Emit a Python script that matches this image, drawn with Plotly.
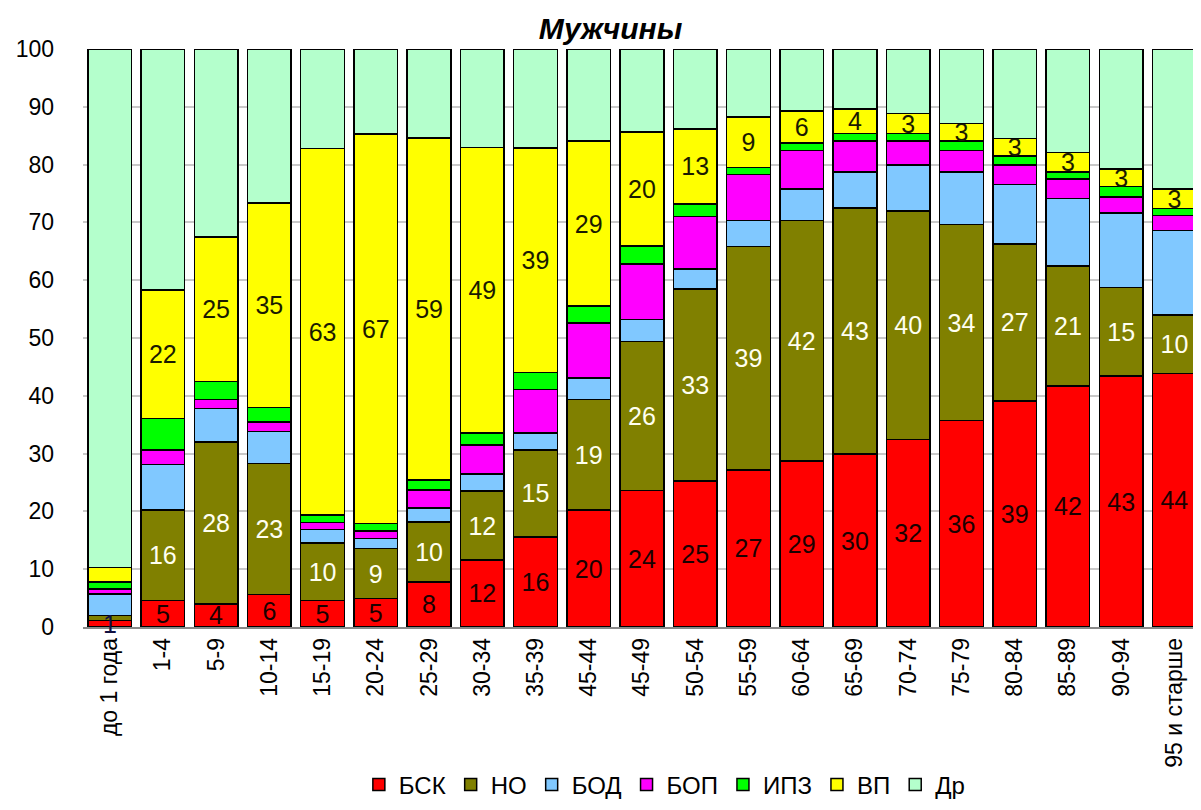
import plotly.graph_objects as go

categories = ["до 1 года", "1-4", "5-9", "10-14", "15-19", "20-24", "25-29", "30-34",
              "35-39", "45-44", "45-49", "50-54", "55-59", "60-64", "65-69", "70-74",
              "75-79", "80-84", "85-89", "90-94", "95 и старше"]

bsk = [1.1, 4.6, 4.0, 5.6, 4.6, 4.9, 7.8, 11.6, 15.6, 20.2, 23.6, 25.3, 27.2, 28.7, 29.9, 32.4, 35.7, 39.1, 41.7, 43.4, 43.9]
no = [0.9, 15.6, 28.0, 22.7, 9.9, 8.7, 10.4, 11.9, 15.0, 19.2, 25.8, 33.2, 38.6, 41.6, 42.6, 39.6, 33.9, 27.2, 20.8, 15.3, 10.1]
bod = [3.7, 7.9, 5.8, 5.5, 2.4, 1.7, 2.4, 3.0, 3.0, 3.7, 3.8, 3.4, 4.5, 5.5, 6.2, 7.9, 9.1, 10.3, 11.6, 12.9, 14.6]
bop = [0.9, 2.5, 1.6, 1.7, 1.2, 1.3, 3.1, 5.0, 7.5, 9.5, 9.6, 9.1, 8.0, 6.6, 5.4, 4.2, 3.7, 3.3, 3.4, 2.8, 2.6]
ipz = [1.2, 5.5, 3.1, 2.5, 1.3, 1.3, 1.7, 2.1, 2.9, 2.9, 3.1, 2.2, 1.2, 1.3, 1.3, 1.3, 1.7, 1.6, 1.2, 1.8, 1.2]
vp = [2.5, 22.2, 25.0, 35.4, 63.4, 67.4, 59.2, 49.4, 38.9, 28.6, 19.7, 13.0, 8.7, 5.6, 4.2, 3.4, 3.0, 3.0, 3.4, 3.0, 3.4]
dr = [89.7, 41.7, 32.5, 26.6, 17.2, 14.7, 15.4, 17.0, 17.1, 15.9, 14.4, 13.8, 11.8, 10.7, 10.4, 11.2, 12.9, 15.5, 17.9, 20.8, 24.2]

series_names = ["БСК", "НО", "БОД", "БОП", "ИПЗ", "ВП", "Др"]
series_values = [bsk, no, bod, bop, ipz, vp, dr]
colors = ["#FF0000", "#808000", "#80C8FF", "#FF00FF", "#00FF00", "#FFFF00", "#B4FFCC"]
labelled = {"БСК": "#1a0000", "НО": "#FFFFF0", "ВП": "#1a1a00"}

FONT = "Liberation Sans, Arial, sans-serif"

fig = go.Figure()
for name, vals, col in zip(series_names, series_values, colors):
    kw = {}
    if name in labelled:
        txt = [f"{v:.0f}" for v in vals]
        txt[0] = ""
        kw = dict(text=txt, textposition="inside", insidetextanchor="middle",
                  textangle=0, constraintext="none",
                  textfont=dict(family=FONT, size=25, color=labelled[name]))
    fig.add_trace(go.Bar(x=categories, y=vals, name=name,
                         marker=dict(color=col, line=dict(color="#000000", width=1.5)),
                         hoverinfo="skip", **kw))

# label of the tiny first БСК segment, which overflows its bar
fig.add_annotation(x=categories[0], y=bsk[0] / 2, text=f"{bsk[0]:.0f}", showarrow=False,
                   xref="x", yref="y", yanchor="middle",
                   font=dict(family=FONT, size=25, color="#101040"))

fig.update_layout(
    barmode="stack",
    bargap=0.18,
    width=1193, height=802,
    margin=dict(l=75, r=0, t=41, b=183),
    paper_bgcolor="white", plot_bgcolor="white",
    font=dict(family=FONT, size=22, color="#000000"),
    uniformtext=dict(minsize=25, mode="show"),
    title=dict(text="<b><i>Мужчины</i></b>", x=0.505, xanchor="center",
               y=1 - 20 / 802, yanchor="middle", yref="container",
               font=dict(family=FONT, size=30, color="#000000")),
    legend=dict(orientation="h", x=0.52, xanchor="center", y=-0.273, yanchor="middle",
                font=dict(family=FONT, size=24), itemwidth=30, traceorder="normal",
                bgcolor="rgba(0,0,0,0)"),
    showlegend=True,
)
fig.update_yaxes(range=[0, 100], tickvals=list(range(0, 101, 10)), showgrid=True,
                 gridcolor="#C8C8C8", gridwidth=1.5, zeroline=False,
                 tickfont=dict(family=FONT, size=23), ticks="", ticklabelstandoff=28,
                 fixedrange=True, automargin=False)
fig.update_xaxes(tickangle=-90, tickfont=dict(family=FONT, size=23), showline=True,
                 linecolor="#888888", linewidth=1.5, ticks="", fixedrange=True,
                 automargin=False)

fig.write_html("out.html")
